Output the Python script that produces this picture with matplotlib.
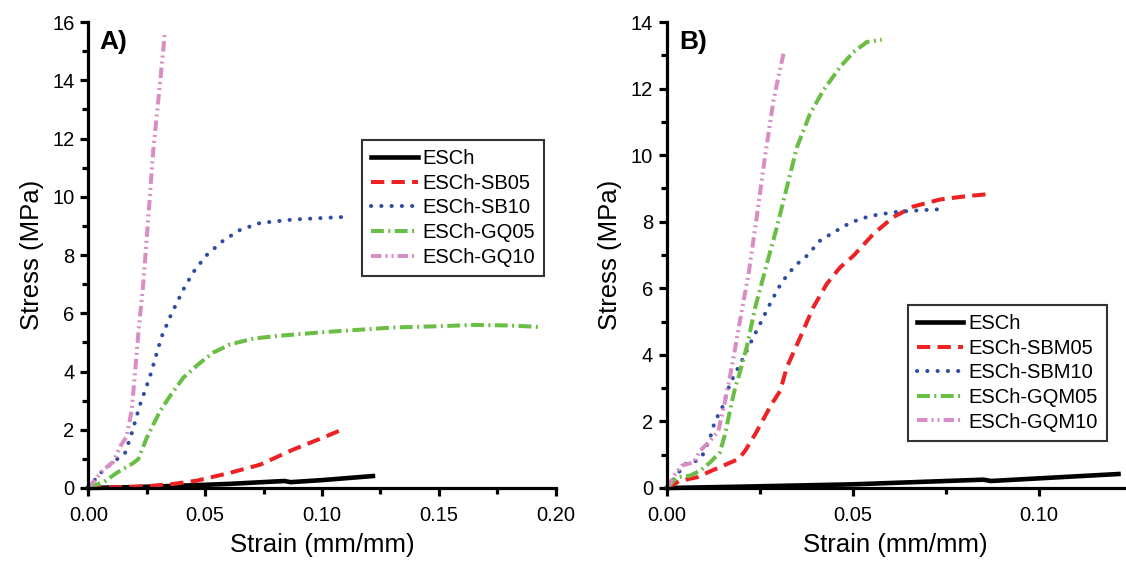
import matplotlib
matplotlib.use("Agg")
import matplotlib.pyplot as plt
from matplotlib.ticker import MultipleLocator, FormatStrFormatter

plt.rcParams['font.family'] = ['Liberation Sans', 'DejaVu Sans']

# ---------------- Panel A data ----------------
a_esch_x = [0.0, 0.02, 0.04, 0.06, 0.084, 0.0865, 0.10, 0.1218]
a_esch_y = [0.0, 0.03, 0.08, 0.14, 0.24, 0.20, 0.27, 0.41]

a_sb05_x = [0.0, 0.0107, 0.025, 0.0364, 0.0464, 0.0606, 0.0735, 0.0877, 0.102, 0.1084]
a_sb05_y = [0.0, 0.02, 0.06, 0.14, 0.25, 0.52, 0.80, 1.32, 1.78, 2.0]

a_sb10_x = [0.0, 0.005, 0.010, 0.0157, 0.0186, 0.0221, 0.0264, 0.0314, 0.0357, 0.0414,
            0.0457, 0.0507, 0.0578, 0.0649, 0.0735, 0.0877, 0.1098]
a_sb10_y = [0.0, 0.50, 0.85, 1.19, 1.88, 2.85, 3.83, 5.20, 6.00, 6.93,
            7.50, 8.00, 8.50, 8.86, 9.10, 9.22, 9.31]

a_gq05_x = [0.0, 0.0071, 0.0122, 0.0193, 0.0214, 0.025, 0.0307, 0.035, 0.0407, 0.0471,
            0.0535, 0.0606, 0.0706, 0.0806, 0.102, 0.1304, 0.1518, 0.1647, 0.1805, 0.1933]
a_gq05_y = [0.0, 0.23, 0.52, 0.86, 0.99, 1.72, 2.64, 3.16, 3.79, 4.25,
            4.65, 4.93, 5.13, 5.22, 5.36, 5.51, 5.56, 5.60, 5.58, 5.53]

a_gq10_x = [0.0, 0.0064, 0.0107, 0.0136, 0.0164, 0.0186, 0.0200, 0.0214, 0.0235,
            0.0257, 0.0278, 0.0307, 0.0328]
a_gq10_y = [0.0, 0.62, 0.90, 1.42, 1.76, 2.68, 3.95, 5.30, 7.00,
            9.30, 11.60, 13.90, 15.66]

# ---------------- Panel B data ----------------
b_esch_x = [0.0, 0.02, 0.05, 0.085, 0.087, 0.1213]
b_esch_y = [0.0, 0.04, 0.11, 0.25, 0.21, 0.42]

b_sbm05_x = [0.0, 0.0035, 0.008, 0.0116, 0.0151, 0.0192, 0.021, 0.0237, 0.0259, 0.0281,
             0.0304, 0.0322, 0.0358, 0.0393, 0.0429, 0.0465, 0.0501, 0.0555, 0.0608,
             0.0662, 0.0734, 0.0806, 0.0873]
b_sbm05_y = [0.0, 0.22, 0.32, 0.50, 0.67, 0.87, 1.12, 1.62, 2.07, 2.52,
             2.92, 3.63, 4.53, 5.43, 6.13, 6.63, 6.98, 7.64, 8.14,
             8.46, 8.67, 8.77, 8.84]

b_sbm10_x = [0.0, 0.0022, 0.0048, 0.0071, 0.0093, 0.0116, 0.0129, 0.0147, 0.0169, 0.0201,
             0.0223, 0.025, 0.0281, 0.0308, 0.0344, 0.0376, 0.0411, 0.0447, 0.0483,
             0.0519, 0.0564, 0.0613, 0.0671, 0.072, 0.0747]
b_sbm10_y = [0.0, 0.32, 0.72, 0.77, 0.92, 1.52, 2.02, 2.37, 3.13, 3.83,
             4.33, 4.93, 5.63, 6.18, 6.68, 6.98, 7.43, 7.68, 7.91,
             8.09, 8.21, 8.29, 8.34, 8.37, 8.37]

b_gqm05_x = [0.0, 0.0026, 0.0062, 0.0089, 0.0116, 0.0142, 0.0156, 0.0169, 0.0183, 0.0192,
             0.0214, 0.0237, 0.0268, 0.0295, 0.0322, 0.0349, 0.0384, 0.042, 0.0465,
             0.0501, 0.0537, 0.0577]
b_gqm05_y = [0.0, 0.32, 0.37, 0.52, 0.77, 1.07, 1.62, 2.32, 3.02, 3.33,
             4.23, 5.43, 6.73, 7.83, 9.04, 10.24, 11.24, 11.95, 12.65,
             13.10, 13.40, 13.47]

b_gqm10_x = [0.0, 0.0022, 0.0039, 0.0071, 0.0089, 0.0116, 0.0138, 0.0156, 0.0174, 0.0196,
             0.0219, 0.0241, 0.0263, 0.0286, 0.0299, 0.0313]
b_gqm10_y = [0.0, 0.42, 0.67, 0.77, 1.12, 1.42, 1.72, 2.62, 3.63, 5.03,
             6.43, 8.14, 9.94, 11.64, 12.35, 13.05]

labels_a = ["ESCh", "ESCh-SB05", "ESCh-SB10", "ESCh-GQ05", "ESCh-GQ10"]
labels_b = ["ESCh", "ESCh-SBM05", "ESCh-SBM10", "ESCh-GQM05", "ESCh-GQM10"]

colors = ["#000000", "#EE2124", "#2F4BA3", "#6BBE45", "#D88DC3"]
styles = [
    dict(linestyle='-', linewidth=3.3),
    dict(linestyle=(0, (3.3, 1.8)), linewidth=2.9),
    dict(linestyle=(0, (0.05, 2.5)), linewidth=2.9, dash_capstyle='round'),
    dict(linestyle=(0, (3.2, 1.1, 0.5, 1.1)), linewidth=2.9),
    dict(linestyle=(0, (2.6, 1.0, 0.5, 1.0, 0.5, 1.0)), linewidth=2.9),
]

fig = plt.figure(figsize=(11.26, 5.62), dpi=100)
axA = fig.add_axes([0.0784, 0.1317, 0.4151, 0.829])
axB = fig.add_axes([0.5924, 0.1317, 0.4059, 0.829])


def style_axes(ax, xmax, ymax, xmajor, ymajor):
    ax.set_xlim(0, xmax)
    ax.set_ylim(0, ymax)
    ax.spines['top'].set_visible(False)
    ax.spines['right'].set_visible(False)
    for s in ['left', 'bottom']:
        ax.spines[s].set_linewidth(2.3)
    ax.xaxis.set_major_locator(MultipleLocator(xmajor))
    ax.xaxis.set_minor_locator(MultipleLocator(xmajor / 2))
    ax.yaxis.set_major_locator(MultipleLocator(ymajor))
    ax.yaxis.set_minor_locator(MultipleLocator(ymajor / 2))
    ax.xaxis.set_major_formatter(FormatStrFormatter('%.2f'))
    ax.tick_params(which='major', direction='out', length=6, width=2.3, labelsize=14.5)
    ax.tick_params(axis='x', which='major', pad=7)
    ax.tick_params(axis='y', which='major', pad=4)
    ax.tick_params(which='minor', direction='out', length=4, width=2.3)
    ax.set_xlabel("Strain (mm/mm)", fontsize=18.5, labelpad=6)
    ax.set_ylabel("Stress (MPa)", fontsize=18.5, labelpad=6)


seriesA = [(a_esch_x, a_esch_y), (a_sb05_x, a_sb05_y), (a_sb10_x, a_sb10_y),
           (a_gq05_x, a_gq05_y), (a_gq10_x, a_gq10_y)]
seriesB = [(b_esch_x, b_esch_y), (b_sbm05_x, b_sbm05_y), (b_sbm10_x, b_sbm10_y),
           (b_gqm05_x, b_gqm05_y), (b_gqm10_x, b_gqm10_y)]

for (x, y), lab, c, st in zip(seriesA, labels_a, colors, styles):
    axA.plot(x, y, color=c, label=lab, clip_on=False, **st)
for (x, y), lab, c, st in zip(seriesB, labels_b, colors, styles):
    axB.plot(x, y, color=c, label=lab, clip_on=False, **st)

style_axes(axA, 0.20, 16, 0.05, 2)
style_axes(axB, 0.1228, 14, 0.05, 2)

axA.text(0.024, 0.957, "A)", transform=axA.transAxes, fontsize=19, fontweight='bold',
         va='center', ha='left')
axB.text(0.026, 0.957, "B)", transform=axB.transAxes, fontsize=19, fontweight='bold',
         va='center', ha='left')

for ax, anchor in [(axA, (0.586, 0.747)), (axB, (0.527, 0.393))]:
    leg = ax.legend(loc='upper left', bbox_to_anchor=anchor, borderaxespad=0,
                    fontsize=14.5, frameon=True, fancybox=False, handlelength=2.3,
                    handletextpad=0.25, labelspacing=0.28, borderpad=0.45)
    leg.get_frame().set_edgecolor('black')
    leg.get_frame().set_linewidth(1.5)

fig.savefig("out.png", dpi=100)
